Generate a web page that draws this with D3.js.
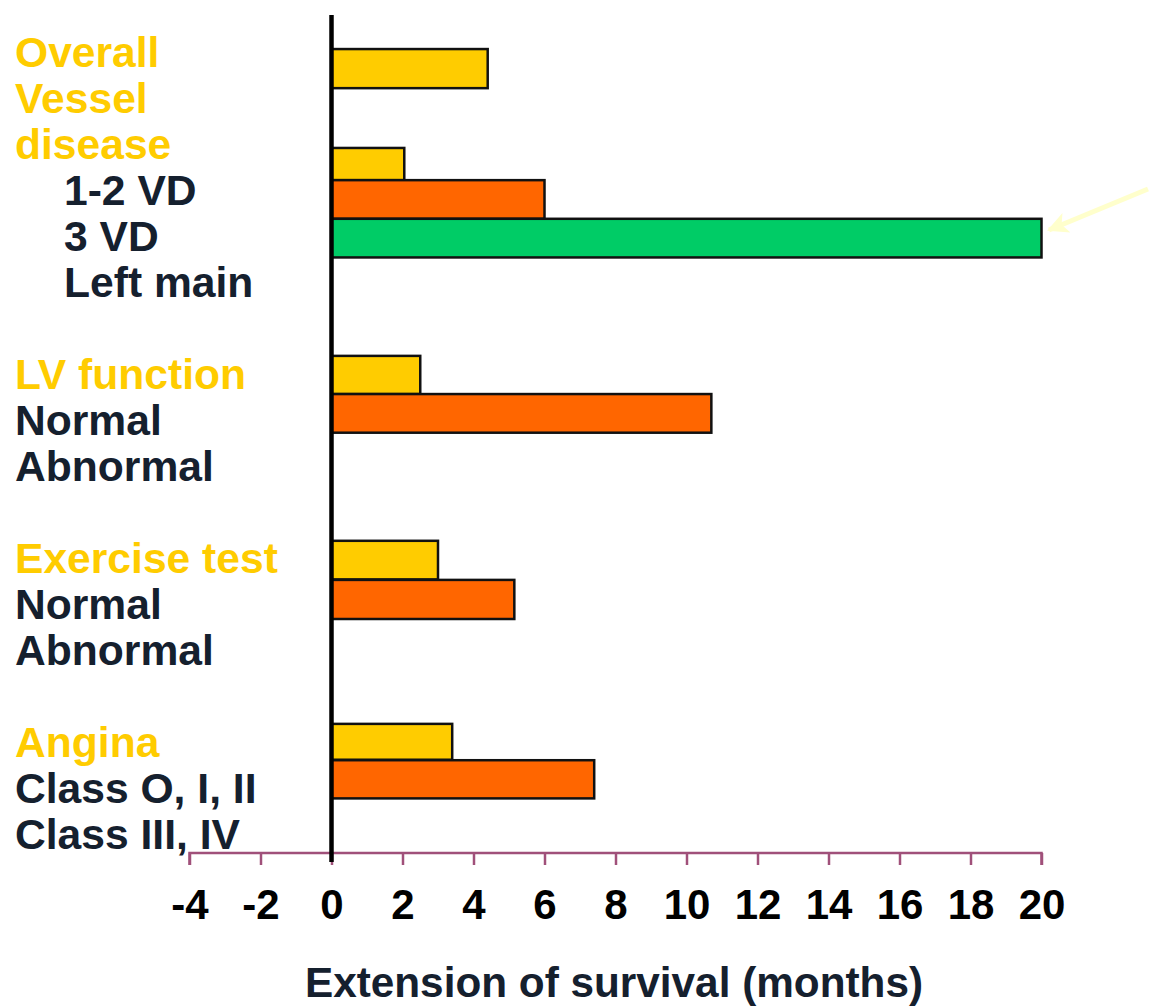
<!DOCTYPE html>
<html>
<head>
<meta charset="utf-8">
<script src="https://cdn.jsdelivr.net/npm/d3@7/dist/d3.min.js"></script>
<style>
  html, body { margin: 0; padding: 0; background: #ffffff; }
  svg { display: block; font-family: "Liberation Sans", Arial, sans-serif; font-weight: bold; }
</style>
</head>
<body>
<svg id="chart" width="1153" height="1008"></svg>
<script>
// Row labels down the left side (one per text line; "" = spacer line)
const rowLabels = [
  "Overall", "Vessel", "disease", "1-2 VD", "3 VD", "Left main", "",
  "LV function", "Normal", "Abnormal", "",
  "Exercise test", "Normal", "Abnormal", "",
  "Angina", "Class O, I, II", "Class III, IV"
];
const rowKinds = [
  "head", "head", "head", "sub", "sub", "sub", "",
  "head", "item", "item", "",
  "head", "item", "item", "",
  "head", "item", "item"
];

// Bars: category, extension of survival (months), colour class
const barNames   = ["Overall", "1-2 VD", "3 VD", "Left main",
                    "LV normal", "LV abnormal",
                    "Exercise normal", "Exercise abnormal",
                    "Class O, I, II", "Class III, IV"];
const barValues  = [4.4, 2.05, 6.0, 20.0, 2.5, 10.7, 3.0, 5.15, 3.4, 7.4];
const barSeries  = ["a", "a", "b", "c", "a", "b", "a", "b", "a", "b"];
// Vertical placement in text-line units (top edge and thickness)
const barSlots   = [-0.39, 1.76, 2.46, 3.30, 6.28, 7.11, 10.30, 11.15, 14.28, 15.07];
const barThick   = [0.85, 0.70, 0.84, 0.84, 0.83, 0.84, 0.84, 0.85, 0.78, 0.83];

const xTicks = [-4, -2, 0, 2, 4, 6, 8, 10, 12, 14, 16, 18, 20];
const xTitle = "Extension of survival (months)";

const colours = { a: "#FFCC00", b: "#FF6600", c: "#00CC66" };
const yellowText = "#FFCC00";
const darkText = "#15202E";
const axisColour = "#A0507A";

const svg = d3.select("#chart");

const x = d3.scaleLinear().domain([-4, 20]).range([189.5, 1041.5]);
// One unit = one text line (46 px); line 0 baseline sits at 67
const y = d3.scaleLinear().domain([0, 1]).range([67, 113]);

// Row labels
svg.append("g").selectAll("text")
  .data(rowLabels.map((t, i) => ({ t, i, k: rowKinds[i] })).filter(d => d.t))
  .join("text")
  .attr("x", d => d.k === "sub" ? 64 : 15)
  .attr("y", d => y(d.i))
  .attr("font-size", 42.6)
  .attr("fill", d => d.k === "head" ? yellowText : darkText)
  .text(d => d.t);

// Bars
const bars = barValues.map((v, i) => ({ v, name: barNames[i], s: barSeries[i], slot: barSlots[i], h: barThick[i] }));
svg.append("g").selectAll("rect")
  .data(bars)
  .join("rect")
  .attr("x", x(0))
  .attr("y", d => y(d.slot))
  .attr("width", d => x(d.v) - x(0))
  .attr("height", d => y(d.h) - y(0))
  .attr("fill", d => colours[d.s])
  .attr("stroke", "#111")
  .attr("stroke-width", 2.5);

// x axis
const xAxis = d3.axisBottom(x).tickValues(xTicks).tickSize(12).tickPadding(24).tickFormat(d => String(d));
const gx = svg.append("g").attr("transform", "translate(0,853)").call(xAxis);
gx.select(".domain").attr("stroke", axisColour).attr("stroke-width", 2.5)
  .attr("d", `M${x(-4)},12V0H${x(20)}V12`);
gx.selectAll(".tick line").attr("stroke", axisColour).attr("stroke-width", 2.5);
gx.selectAll(".tick text")
  .attr("fill", "#000")
  .attr("font-size", 42)
  .attr("font-family", "'Liberation Sans', Arial, sans-serif")
  .attr("font-weight", "bold")
  .attr("dy", "0.71em");

// zero line
svg.append("line")
  .attr("x1", x(0)).attr("x2", x(0))
  .attr("y1", 15).attr("y2", 862)
  .attr("stroke", "#000").attr("stroke-width", 4.5);

// axis title
svg.append("text")
  .attr("x", 614).attr("y", 997)
  .attr("text-anchor", "middle")
  .attr("font-size", 42.3)
  .attr("fill", darkText)
  .text(xTitle);

// highlight arrow pointing at the Left main bar
const defs = svg.append("defs");
defs.append("marker")
  .attr("id", "head")
  .attr("viewBox", "0 0 10 10")
  .attr("refX", 9).attr("refY", 5)
  .attr("markerWidth", 4.6).attr("markerHeight", 4.2)
  .attr("markerUnits", "strokeWidth")
  .attr("orient", "auto")
  .append("path").attr("d", "M0,0L10,5L0,10L2.5,5z").attr("fill", "#FFFFCC");
svg.append("line")
  .attr("x1", 1148).attr("y1", 189)
  .attr("x2", 1049).attr("y2", 230)
  .attr("stroke", "#FFFFCC").attr("stroke-width", 5)
  .attr("marker-end", "url(#head)");
</script>
</body>
</html>
